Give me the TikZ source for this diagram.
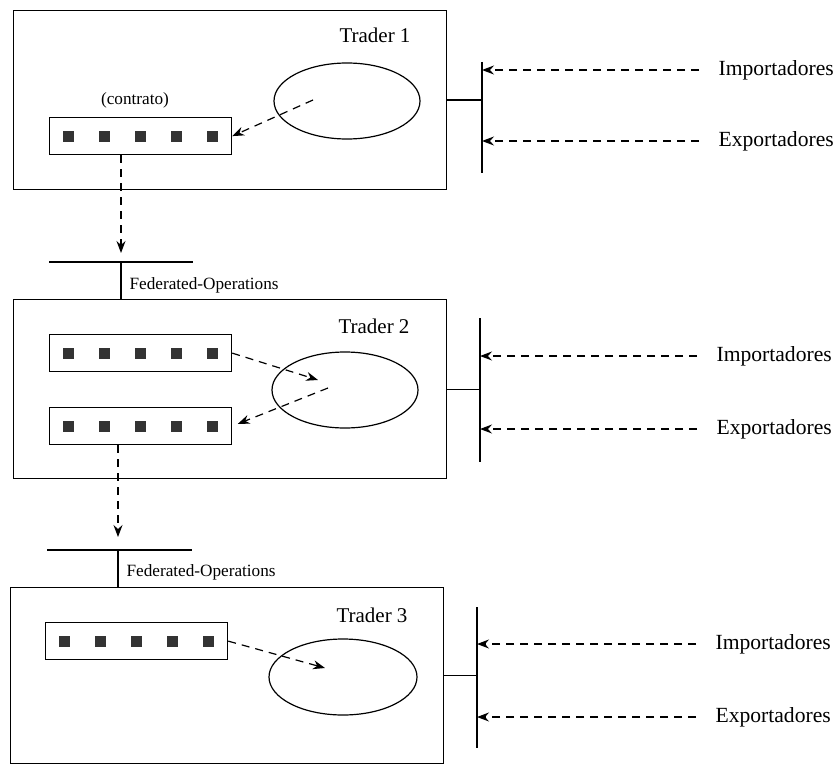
\documentclass[tikz,border=0pt]{standalone}
\usepackage{fontspec}
\setmainfont{Liberation Serif}
\usetikzlibrary{shapes.geometric, arrows.meta}
\tikzstyle{trader} = [
    rectangle,
    minimum width=216.5pt,
    minimum height=89.5pt,
    anchor=north west,
    draw=black
]
\tikzstyle{contract} = [
    rectangle,
    minimum width=91pt,
    minimum height=18.5pt,
    anchor=north west,
    draw=black
]
\tikzstyle{slot} = [
    rectangle,
    minimum size=5.5pt,
    inner sep=0pt,
    fill=black!80
]
\tikzstyle{engine} = [
    ellipse,
    minimum width=73pt,
    minimum height=38pt,
    inner sep=0pt,
    draw=black
]
\tikzstyle{title} = [
    font=\fontsize{10.5pt}{12pt}\selectfont
]
\tikzstyle{party} = [
    anchor=west,
    inner sep=0pt,
    font=\fontsize{10.8pt}{12pt}\selectfont
]
\tikzstyle{small} = [
    inner sep=0pt,
    font=\fontsize{8.6pt}{10pt}\selectfont
]
\tikzstyle{flow} = [
    dash pattern=on 4pt off 3pt,
    -{Stealth[length=6pt,width=4.5pt,inset=2pt]}
]

\begin{document}
\begin{tikzpicture}[x=0.5pt, y=-0.5pt, line width=0.6pt]
\useasboundingbox (0,0) rectangle (834,765);

% trader boxes
\node (t1) [trader] at (13,10) {};
\node (t2) [trader] at (13,299) {};
\node (t3) [trader, minimum height=88pt] at (10,587) {};

\node (l1) [title] at (375,35) {Trader 1};
\node (l2) [title] at (374,326) {Trader 2};
\node (l3) [title] at (372,615) {Trader 3};

% engines
\node (e1) [engine] at (347,101) {};
\node (e2) [engine] at (345,390) {};
\node (e3) [engine, minimum width=74pt] at (343,677) {};

% contracts
\node (r1) [contract] at (49,117) {};
\node (r2a) [contract] at (49,334) {};
\node (r2b) [contract] at (49,407) {};
\node (r3) [contract] at (45,622) {};
\node (c1) [small] at (135,100) {(contrato)};

\foreach \r in {r1, r2a, r2b, r3}
    \foreach \i in {-2,...,2}
        \node (\r s\i) [slot] at ([xshift=\i*18pt]\r.center) {};

% flows inside the traders
\coordinate (e1in) at (313,100);
\coordinate (e2in) at (318,380);
\coordinate (e2out) at (328,388);
\coordinate (e3in) at (325,668);

\draw [flow] (e1in) -- (r1.east);
\draw [flow] (r2a.east) -- (e2in);
\draw [flow, shorten >=3pt] (e2out) -- (r2b.east);
\draw [flow] (r3.east) -- (e3in);

% federated operations
\coordinate (fed1) at (121,262);
\coordinate (fed2) at (118,550);
\draw (49,262) -- (193,262);
\draw (47,550) -- (192,550);
\draw (fed1) -- (fed1 |- t2.north);
\draw (fed2) -- (fed2 |- t3.north);
\node (f1) [small, anchor=west] at (129,285) {Federated-Operations};
\node (f2) [small, anchor=west] at (126,572) {Federated-Operations};

\draw [flow, shorten >=4.5pt] (r1.south -| fed1) -- (fed1);
\draw [flow, shorten >=6.5pt] (r2b.south -| fed2) -- (fed2);

% buses
\coordinate (bus1) at (482,101);
\coordinate (bus2) at (480,390);
\coordinate (bus3) at (477,678);
\draw (482,62) -- (482,173);
\draw (480,318) -- (480,462);
\draw (477,607) -- (477,748);
\draw (t1.east) -- (t1.east -| bus1);
\draw (t2.east) -- (t2.east -| bus2);
\draw (t3.east) -- (t3.east -| bus3);

% importers and exporters
\node (imp1) [party] at (718,70) {Importadores};
\node (exp1) [party] at (718,141) {Exportadores};
\node (imp2) [party] at (716,356) {Importadores};
\node (exp2) [party] at (716,429) {Exportadores};
\node (imp3) [party] at (715,644) {Importadores};
\node (exp3) [party] at (715,717) {Exportadores};

\foreach \p/\b in {imp1/bus1, exp1/bus1, imp2/bus2, exp2/bus2, imp3/bus3, exp3/bus3}
    \draw [flow] ([xshift=-9.5pt]\p.west) -- (\p.west -| \b);

\end{tikzpicture}
\end{document}
